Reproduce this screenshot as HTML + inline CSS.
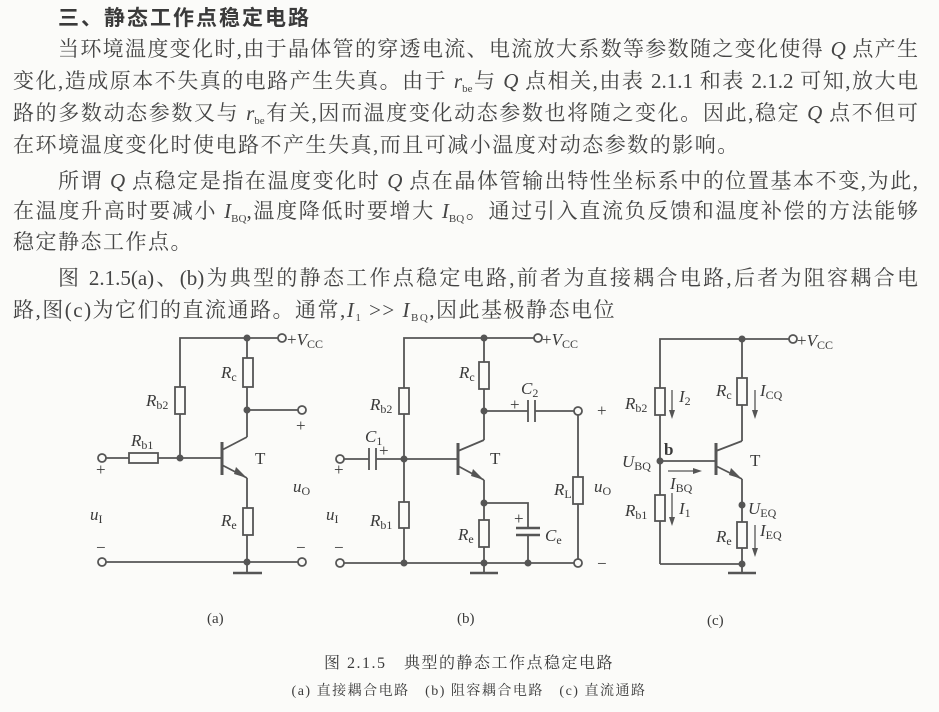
<!DOCTYPE html>
<html><head><meta charset="utf-8"><style>
html,body{margin:0;padding:0;background:#fbfbf9;}
body{width:939px;height:712px;position:relative;overflow:hidden;font-family:"Liberation Serif","Noto Serif CJK SC","Noto Sans CJK SC",serif;color:#444;}
.l{position:absolute;left:13px;width:905px;font-size:21px;line-height:26px;white-space:nowrap;text-align:justify;text-align-last:justify;}
.l.ind{left:58px;width:860px;}
.l.left{text-align-last:left;letter-spacing:1.5px;}
.t{position:absolute;left:58px;top:2px;font-size:21px;font-weight:bold;font-family:"Noto Sans CJK SC",sans-serif;letter-spacing:2px;color:#3a3a3a;}
i{font-family:"Liberation Serif",serif;}
sub{font-size:11px;vertical-align:-4px;line-height:0;}
svg{position:absolute;left:0;top:0;}
svg text{font-family:"Liberation Serif",serif;fill:#3a3a3a;}
</style></head><body>
<div class="t">三、静态工作点稳定电路</div>
<div class="l ind" style="top:36px">当环境温度变化时,由于晶体管的穿透电流、电流放大系数等参数随之变化使得 <i>Q</i> 点产生</div>
<div class="l" style="top:68px">变化,造成原本不失真的电路产生失真。由于 <i>r</i><sub>be</sub>与 <i>Q</i> 点相关,由表 2.1.1 和表 2.1.2 可知,放大电</div>
<div class="l" style="top:100px">路的多数动态参数又与 <i>r</i><sub>be</sub>有关,因而温度变化动态参数也将随之变化。因此,稳定 <i>Q</i> 点不但可</div>
<div class="l left" style="top:132px">在环境温度变化时使电路不产生失真,而且可减小温度对动态参数的影响。</div>
<div class="l ind" style="top:168px">所谓 <i>Q</i> 点稳定是指在温度变化时 <i>Q</i> 点在晶体管输出特性坐标系中的位置基本不变,为此,</div>
<div class="l" style="top:198px">在温度升高时要减小 <i>I</i><sub>BQ</sub>,温度降低时要增大 <i>I</i><sub>BQ</sub>。通过引入直流负反馈和温度补偿的方法能够</div>
<div class="l left" style="top:229px">稳定静态工作点。</div>
<div class="l ind" style="top:265px">图 2.1.5(a)、(b)为典型的静态工作点稳定电路,前者为直接耦合电路,后者为阻容耦合电</div>
<div class="l left" style="top:297px">路,图(c)为它们的直流通路。通常,<i>I</i><sub>1</sub> &gt;&gt; <i>I</i><sub>BQ</sub>,因此基极静态电位</div>

<svg width="939" height="712" viewBox="0 0 939 712">
<g stroke="#555" stroke-width="1.8" fill="none">
<polyline points="180,458 180,338 278,338"/>
<line x1="247" y1="338" x2="247" y2="437"/>
<rect x="243" y="358" width="10" height="29" fill="#fbfbf9"/>
<line x1="247" y1="410" x2="298" y2="410"/>
<rect x="175" y="387" width="10" height="27" fill="#fbfbf9"/>
<line x1="106" y1="458" x2="222" y2="458"/>
<rect x="129" y="453" width="29" height="10" fill="#fbfbf9"/>
<line x1="222" y1="442" x2="222" y2="475" stroke-width="3"/>
<line x1="222" y1="450" x2="247" y2="437"/>
<line x1="222" y1="465" x2="247" y2="478"/>
<line x1="247" y1="478" x2="247" y2="573"/>
<rect x="243" y="508" width="10" height="27" fill="#fbfbf9"/>
<line x1="106" y1="562" x2="298" y2="562"/>
<line x1="233" y1="573" x2="262" y2="573" stroke-width="2.5"/>
<circle cx="282" cy="338" r="4" fill="#fbfbf9"/>
<circle cx="302" cy="410" r="4" fill="#fbfbf9"/>
<circle cx="102" cy="458" r="4" fill="#fbfbf9"/>
<circle cx="102" cy="562" r="4" fill="#fbfbf9"/>
<circle cx="302" cy="562" r="4" fill="#fbfbf9"/>
<polyline points="404,563 404,338 534,338"/>
<line x1="484" y1="338" x2="484" y2="440"/>
<rect x="479" y="362" width="10" height="27" fill="#fbfbf9"/>
<line x1="484" y1="411" x2="528" y2="411"/>
<line x1="535" y1="411" x2="574" y2="411"/>
<line x1="528" y1="400" x2="528" y2="422"/>
<line x1="535" y1="400" x2="535" y2="422"/>
<line x1="578" y1="415" x2="578" y2="559"/>
<rect x="573" y="477" width="10" height="27" fill="#fbfbf9"/>
<rect x="399" y="388" width="10" height="26" fill="#fbfbf9"/>
<rect x="399" y="502" width="10" height="26" fill="#fbfbf9"/>
<line x1="344" y1="459" x2="369" y2="459"/>
<line x1="376" y1="459" x2="458" y2="459"/>
<line x1="369" y1="448" x2="369" y2="470"/>
<line x1="376" y1="448" x2="376" y2="470"/>
<line x1="458" y1="443" x2="458" y2="475" stroke-width="3"/>
<line x1="458" y1="451" x2="484" y2="440"/>
<line x1="458" y1="466" x2="484" y2="480"/>
<line x1="484" y1="480" x2="484" y2="573"/>
<rect x="479" y="520" width="10" height="27" fill="#fbfbf9"/>
<polyline points="484,503 528,503 528,528"/>
<line x1="516" y1="528" x2="540" y2="528" stroke-width="2.5"/>
<line x1="516" y1="535" x2="540" y2="535" stroke-width="2.5"/>
<line x1="528" y1="535" x2="528" y2="563"/>
<line x1="344" y1="563" x2="574" y2="563"/>
<line x1="470" y1="573" x2="498" y2="573" stroke-width="2.5"/>
<circle cx="538" cy="338" r="4" fill="#fbfbf9"/>
<circle cx="578" cy="411" r="4" fill="#fbfbf9"/>
<circle cx="578" cy="563" r="4" fill="#fbfbf9"/>
<circle cx="340" cy="459" r="4" fill="#fbfbf9"/>
<circle cx="340" cy="563" r="4" fill="#fbfbf9"/>
<polyline points="660,564 660,339 789,339"/>
<line x1="742" y1="339" x2="742" y2="441"/>
<rect x="737" y="378" width="10" height="27" fill="#fbfbf9"/>
<rect x="655" y="388" width="10" height="27" fill="#fbfbf9"/>
<rect x="655" y="495" width="10" height="26" fill="#fbfbf9"/>
<line x1="660" y1="461" x2="716" y2="461"/>
<line x1="716" y1="443" x2="716" y2="475" stroke-width="3"/>
<line x1="716" y1="451" x2="742" y2="441"/>
<line x1="716" y1="466" x2="742" y2="479"/>
<line x1="742" y1="479" x2="742" y2="573"/>
<rect x="737" y="522" width="10" height="26" fill="#fbfbf9"/>
<line x1="660" y1="564" x2="742" y2="564"/>
<line x1="728" y1="573" x2="756" y2="573" stroke-width="2.5"/>
<circle cx="793" cy="339" r="4" fill="#fbfbf9"/>
<g stroke-width="1.3">
<line x1="672" y1="390" x2="672" y2="414"/><line x1="755" y1="390" x2="755" y2="414"/>
<line x1="672" y1="493" x2="672" y2="521"/><line x1="755" y1="525" x2="755" y2="552"/>
<line x1="668" y1="471" x2="696" y2="471"/>
</g>
</g>
<g fill="#555">
<circle cx="247" cy="338" r="3.5"/><circle cx="247" cy="410" r="3.5"/><circle cx="180" cy="458" r="3.5"/><circle cx="247" cy="562" r="3.5"/>
<circle cx="484" cy="338" r="3.5"/><circle cx="484" cy="411" r="3.5"/><circle cx="404" cy="459" r="3.5"/><circle cx="484" cy="503" r="3.5"/>
<circle cx="404" cy="563" r="3.5"/><circle cx="484" cy="563" r="3.5"/><circle cx="528" cy="563" r="3.5"/>
<circle cx="742" cy="339" r="3.5"/><circle cx="660" cy="461" r="3.5"/><circle cx="742" cy="505" r="3.5"/><circle cx="742" cy="564" r="3.5"/>
<polygon points="247,478 236,467 234,474"/><polygon points="484,480 473,469 471,476"/><polygon points="742,479 731,468 729,475"/>
<polygon points="672,419 669,410 675,410"/><polygon points="755,419 752,410 758,410"/>
<polygon points="672,526 669,517 675,517"/><polygon points="755,557 752,548 758,548"/>
<polygon points="702,471 693,468 693,474"/>
</g>
<g font-size="17">
<text x="287" y="345">+<tspan font-style="italic">V</tspan><tspan font-size="12" dy="3">CC</tspan></text>
<text x="542" y="345">+<tspan font-style="italic">V</tspan><tspan font-size="12" dy="3">CC</tspan></text>
<text x="797" y="346">+<tspan font-style="italic">V</tspan><tspan font-size="12" dy="3">CC</tspan></text>
<text x="221" y="378" font-style="italic">R<tspan font-size="12" dy="3" font-style="normal">c</tspan></text>
<text x="146" y="406" font-style="italic">R<tspan font-size="12" dy="3" font-style="normal">b2</tspan></text>
<text x="131" y="446" font-style="italic">R<tspan font-size="12" dy="3" font-style="normal">b1</tspan></text>
<text x="221" y="526" font-style="italic">R<tspan font-size="12" dy="3" font-style="normal">e</tspan></text>
<text x="255" y="464">T</text>
<text x="296" y="431">+</text><text x="96" y="475">+</text>
<text x="293" y="492" font-style="italic">u<tspan font-size="12" dy="3" font-style="normal">O</tspan></text>
<text x="90" y="520" font-style="italic">u<tspan font-size="12" dy="3" font-style="normal">I</tspan></text>
<text x="96" y="553">−</text><text x="296" y="553">−</text>
<text x="459" y="378" font-style="italic">R<tspan font-size="12" dy="3" font-style="normal">c</tspan></text>
<text x="370" y="410" font-style="italic">R<tspan font-size="12" dy="3" font-style="normal">b2</tspan></text>
<text x="370" y="526" font-style="italic">R<tspan font-size="12" dy="3" font-style="normal">b1</tspan></text>
<text x="458" y="540" font-style="italic">R<tspan font-size="12" dy="3" font-style="normal">e</tspan></text>
<text x="521" y="394" font-style="italic">C<tspan font-size="12" dy="3" font-style="normal">2</tspan></text>
<text x="365" y="442" font-style="italic">C<tspan font-size="12" dy="3" font-style="normal">1</tspan></text>
<text x="545" y="541" font-style="italic">C<tspan font-size="12" dy="3" font-style="normal">e</tspan></text>
<text x="554" y="495" font-style="italic">R<tspan font-size="12" dy="3" font-style="normal">L</tspan></text>
<text x="594" y="492" font-style="italic">u<tspan font-size="12" dy="3" font-style="normal">O</tspan></text>
<text x="326" y="520" font-style="italic">u<tspan font-size="12" dy="3" font-style="normal">I</tspan></text>
<text x="490" y="464">T</text>
<text x="510" y="410">+</text><text x="379" y="456">+</text><text x="514" y="524">+</text>
<text x="334" y="475">+</text><text x="597" y="416">+</text><text x="334" y="553">−</text><text x="597" y="569">−</text>
<text x="716" y="396" font-style="italic">R<tspan font-size="12" dy="3" font-style="normal">c</tspan></text>
<text x="625" y="409" font-style="italic">R<tspan font-size="12" dy="3" font-style="normal">b2</tspan></text>
<text x="625" y="516" font-style="italic">R<tspan font-size="12" dy="3" font-style="normal">b1</tspan></text>
<text x="716" y="542" font-style="italic">R<tspan font-size="12" dy="3" font-style="normal">e</tspan></text>
<text x="679" y="402" font-style="italic">I<tspan font-size="12" dy="3" font-style="normal">2</tspan></text>
<text x="760" y="396" font-style="italic">I<tspan font-size="12" dy="3" font-style="normal">CQ</tspan></text>
<text x="679" y="514" font-style="italic">I<tspan font-size="12" dy="3" font-style="normal">1</tspan></text>
<text x="760" y="536" font-style="italic">I<tspan font-size="12" dy="3" font-style="normal">EQ</tspan></text>
<text x="670" y="489" font-style="italic">I<tspan font-size="12" dy="3" font-style="normal">BQ</tspan></text>
<text x="622" y="467" font-style="italic">U<tspan font-size="12" dy="3" font-style="normal">BQ</tspan></text>
<text x="748" y="514" font-style="italic">U<tspan font-size="12" dy="3" font-style="normal">EQ</tspan></text>
<text x="664" y="455" font-weight="bold">b</text>
<text x="750" y="466">T</text>
</g>
<g font-size="15">
<text x="207" y="623">(a)</text><text x="457" y="623">(b)</text><text x="707" y="625">(c)</text>
</g>
<text x="469" y="668" font-size="16" text-anchor="middle" style="font-family:'Liberation Serif','Noto Serif CJK SC',serif" letter-spacing="1.5">图 2.1.5　典型的静态工作点稳定电路</text>
<text x="469" y="695" font-size="14" text-anchor="middle" style="font-family:'Liberation Serif','Noto Serif CJK SC',serif" letter-spacing="1.5">(a) 直接耦合电路　(b) 阻容耦合电路　(c) 直流通路</text>
</svg>
</body></html>
